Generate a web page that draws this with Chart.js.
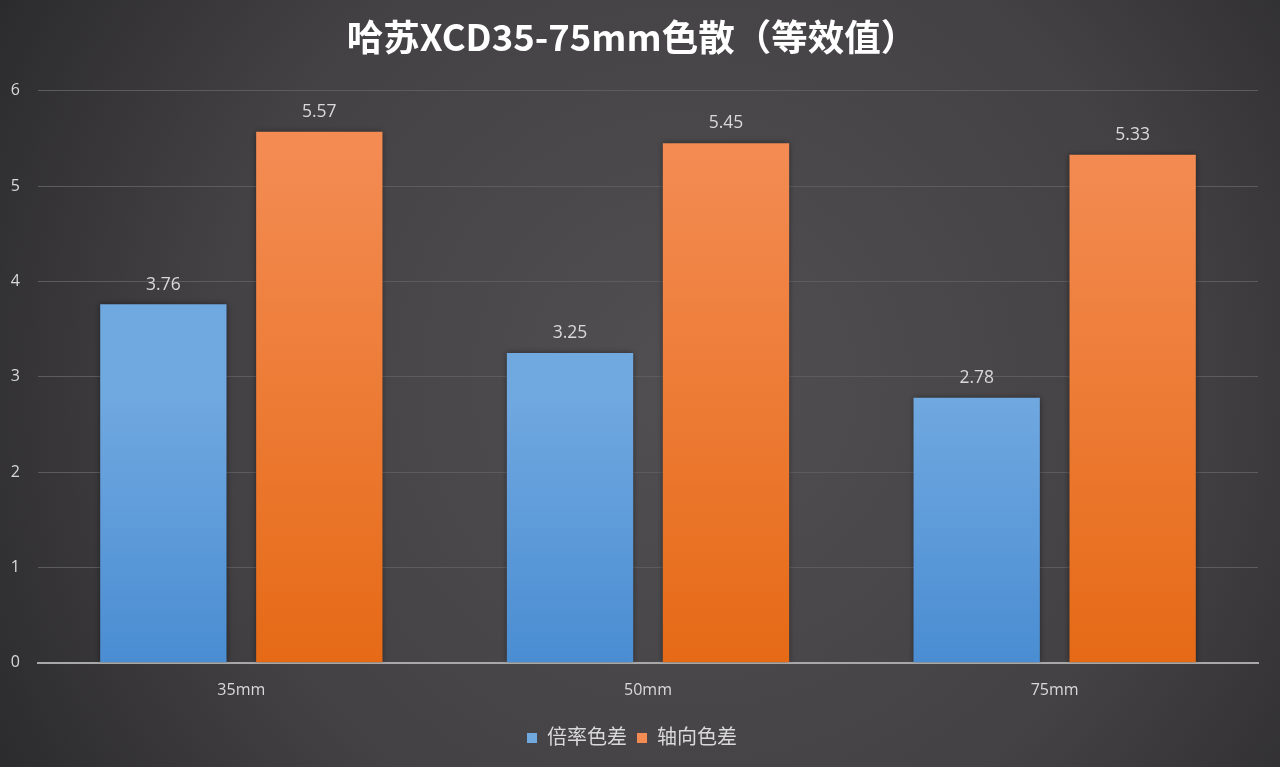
<!DOCTYPE html>
<html>
<head>
<meta charset="utf-8">
<script src="https://cdn.jsdelivr.net/npm/chart.js@4.4.1/dist/chart.umd.min.js"></script>
<style>
  html,body{margin:0;padding:0;background:#333;}
  #wrap{width:1280px;height:767px;position:relative;}
</style>
</head>
<body>
<div id="wrap"><canvas id="c" width="1280" height="767"></canvas></div>
<script>
const chartTitle = '哈苏XCD35-75mm色散（等效值）';
const categories = ['35mm', '50mm', '75mm'];
const seriesNames = ['倍率色差', '轴向色差'];
const lateralCA = [3.76, 3.25, 2.78];
const axialCA = [5.57, 5.45, 5.33];
const yTicks = [0, 1, 2, 3, 4, 5, 6];

const FONT = '"Open Sans", "Noto Sans CJK SC", sans-serif';
const TEXT = '#d9d9d9';

// top / bottom colours for each series
const barColors = [
  ['#70a8e0', '#4a8dd2'],
  ['#f38b52', '#e66a16']
];

const bgPlugin = {
  id: 'bg',
  beforeDraw(chart){
    const {ctx, width, height} = chart;
    ctx.save();
    const g = ctx.createRadialGradient(width*0.54, height*0.5, 30, width*0.54, height*0.5, width*0.62);
    g.addColorStop(0, '#504e51');
    g.addColorStop(0.6, '#434144');
    g.addColorStop(1, '#2b2a2d');
    ctx.fillStyle = g;
    ctx.fillRect(0, 0, width, height);
    ctx.restore();
  }
};

const barFill = {
  id: 'barFill',
  beforeDatasetsDraw(chart){
    const ctx = chart.ctx;
    chart.data.datasets.forEach((ds, i) => {
      chart.getDatasetMeta(i).data.forEach(bar => {
        const g = ctx.createLinearGradient(0, bar.y, 0, bar.base);
        g.addColorStop(0, barColors[i][0]);
        g.addColorStop(1, barColors[i][1]);
        bar.options.backgroundColor = g;
      });
    });
    ctx.save();
    ctx.shadowColor = 'rgba(0,0,0,0.45)';
    ctx.shadowBlur = 6;
  },
  afterDatasetsDraw(chart){
    chart.ctx.restore();
  }
};

const valueLabels = {
  id: 'valueLabels',
  afterDatasetsDraw(chart){
    const ctx = chart.ctx;
    ctx.save();
    ctx.font = '17.5px ' + FONT;
    ctx.fillStyle = TEXT;
    ctx.textAlign = 'center';
    ctx.textBaseline = 'bottom';
    chart.data.datasets.forEach((ds, i) => {
      chart.getDatasetMeta(i).data.forEach((bar, j) => {
        ctx.fillText(ds.data[j].toFixed(2), bar.x, bar.y - 11);
      });
    });
    ctx.restore();
  }
};

new Chart(document.getElementById('c'), {
  type: 'bar',
  data: {
    labels: categories,
    datasets: [
      { label: seriesNames[0], data: lateralCA, backgroundColor: barColors[0][0] },
      { label: seriesNames[1], data: axialCA, backgroundColor: barColors[1][0] }
    ]
  },
  options: {
    responsive: false,
    animation: false,
    devicePixelRatio: 1,
    categoryPercentage: 0.767,
    barPercentage: 0.81,
    layout: { padding: { left: 6, right: 22, top: 10, bottom: 9 } },
    plugins: {
      title: {
        display: true,
        text: chartTitle,
        color: '#ffffff',
        font: { family: '"Noto Sans CJK SC", "Open Sans", sans-serif', size: 36.5, weight: 'bold' },
        padding: { top: 5, bottom: 32 }
      },
      legend: {
        position: 'bottom',
        labels: {
          color: TEXT,
          font: { family: FONT, size: 20 },
          boxWidth: 10, boxHeight: 10,
          padding: 10
        }
      },
      tooltip: { enabled: false }
    },
    scales: {
      x: {
        grid: { display: false, drawTicks: false },
        border: { display: true, color: '#a8a8a8', width: 2 },
        ticks: { color: TEXT, font: { family: FONT, size: 16 }, padding: 18 }
      },
      y: {
        min: 0, max: 6,
        afterBuildTicks(axis){ axis.ticks = yTicks.map(v => ({ value: v })); },
        afterFit(axis){ axis.width = 32; },
        grid: { color: '#5c5b5e', lineWidth: 1, drawTicks: false },
        border: { display: false },
        ticks: { color: TEXT, font: { family: FONT, size: 16 }, padding: 18 }
      }
    }
  },
  plugins: [bgPlugin, barFill, valueLabels]
});
</script>
</body>
</html>
